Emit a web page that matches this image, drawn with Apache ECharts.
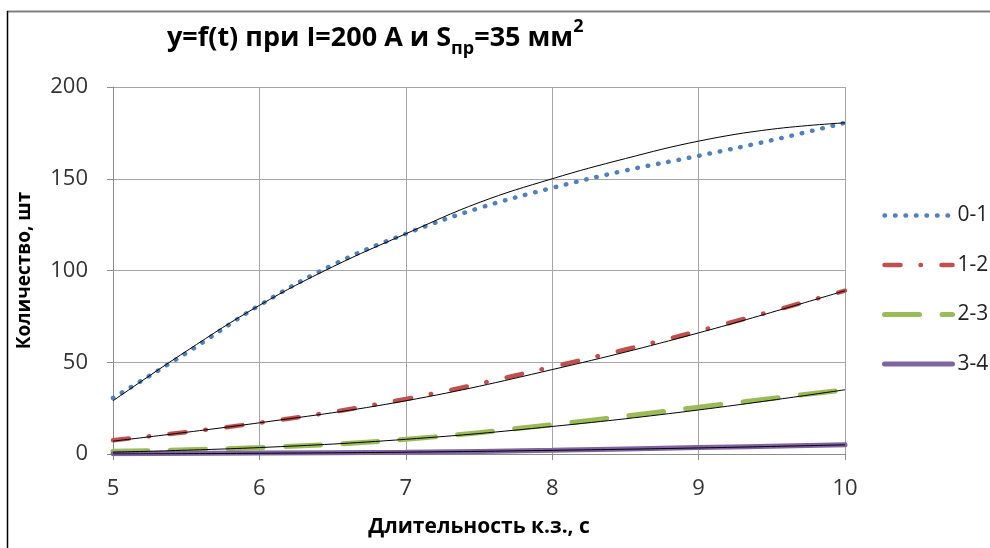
<!DOCTYPE html>
<html>
<head>
<meta charset="utf-8">
<script src="https://cdn.jsdelivr.net/npm/echarts@6/dist/echarts.min.js"></script>
<style>
  html, body { margin: 0; padding: 0; background: #fff; }
  #chart { width: 990px; height: 548px; }
</style>
</head>
<body>
<div id="chart"></div>
<script>
// x values
var tHalf = [5, 5.5, 6, 6.5, 7, 7.5, 8, 8.5, 9, 9.5, 10];
var tInt = [5, 6, 7, 8, 9, 10];

// series
var s01 = [30.5, 55, 81, 103, 120, 134, 145, 154.5, 162.5, 171, 180.5];
var s12 = [7.5, 17, 30, 47.5, 67, 89];
var s23 = [1.5, 3.5, 8, 16, 25.5, 35];
var s34 = [0.2, 0.5, 1, 2, 3.5, 5];

// black trend lines
var tr01 = [29, 56, 81, 102, 120, 137, 150, 161, 170.5, 177, 180.5];
var tr12 = [7, 17, 29, 46, 66, 89];
var tr23 = [1, 3.5, 8, 15, 24, 35];
var tr34 = [0, 0.4, 1, 2, 3.3, 5];

var names = ['0-1', '1-2', '2-3', '3-4'];
var yTicks = [0, 50, 100, 150, 200];

function pairs(xs, ys) {
    return xs.map(function (x, i) { return [x, ys[i]]; });
}

var font = '"Open Sans", sans-serif';

var styles = {
    '0-1': { color: '#4F81BD', width: 4.5, type: [0.5, 10], cap: 'round' },
    '1-2': { color: '#C0504D', width: 4.5, type: [16, 20, 0.5, 20.5], cap: 'round' },
    '2-3': { color: '#9BBB59', width: 5, type: [35, 22.5], cap: 'round' },
    '3-4': { color: '#8064A2', width: 5, type: 'solid', cap: 'round' }
};

var myChart = echarts.init(document.getElementById('chart'));

function trend(xs, ys) {
    return {
        name: 'trend',
        type: 'line',
        data: pairs(xs, ys),
        smooth: 0.4,
        symbol: 'none',
        z: 5,
        silent: true,
        lineStyle: { color: '#000', width: 1 }
    };
}

function mainSeries(name, xs, ys) {
    return {
        name: name, type: 'line', data: pairs(xs, ys), smooth: 0.4, symbol: 'none',
        itemStyle: { color: styles[name].color },
        lineStyle: styles[name]
    };
}

option = {
    animation: false,
    title: {
        text: '{a|y=f(t) при I=200 А и S}{b|пр}{a|=35 мм}{c|2}',
        left: 162,
        top: 13,
        textStyle: {
            rich: {
                a: { fontFamily: font, fontWeight: 'bold', fontSize: 27, color: '#000', lineHeight: 40 },
                b: { fontFamily: font, fontWeight: 'bold', fontSize: 18, color: '#000', lineHeight: 18, verticalAlign: 'bottom' },
                c: { fontFamily: font, fontWeight: 'bold', fontSize: 18, color: '#000', lineHeight: 18, verticalAlign: 'top' }
            }
        }
    },
    graphic: [
        { type: 'line', shape: { x1: 7, y1: 11.5, x2: 990, y2: 11.5 }, style: { stroke: '#808080', lineWidth: 2 } },
        { type: 'line', shape: { x1: 7.5, y1: 11, x2: 7.5, y2: 548 }, style: { stroke: '#000', lineWidth: 1.5 } }
    ],
    legend: {
        data: names.map(function (n) {
            return { name: n, itemStyle: { opacity: 0 }, lineStyle: styles[n] };
        }),
        orient: 'vertical',
        left: 877,
        top: 200,
        itemWidth: 68,
        itemHeight: 14,
        itemGap: 28.5,
        textStyle: { fontFamily: font, fontSize: 21, color: '#222' }
    },
    grid: { left: 113, right: 145, top: 87, bottom: 94 },
    xAxis: {
        type: 'value',
        min: 5,
        max: 10,
        interval: 1,
        name: 'Длительность к.з., с',
        nameLocation: 'middle',
        nameGap: 63,
        nameTextStyle: { fontFamily: font, fontWeight: 'bold', fontSize: 21, color: '#000' },
        axisLine: { lineStyle: { color: '#8c8c8c' } },
        axisTick: { show: true, length: 6, lineStyle: { color: '#8c8c8c' } },
        axisLabel: { margin: 24, fontFamily: font, fontSize: 22, color: '#333' },
        splitLine: { show: true, lineStyle: { color: '#a6a6a6', width: 1 } }
    },
    yAxis: {
        type: 'value',
        min: 0,
        max: 200,
        interval: 50,
        name: 'Количество, шт',
        nameLocation: 'middle',
        nameGap: 79,
        nameTextStyle: { fontFamily: font, fontWeight: 'bold', fontSize: 19, color: '#000' },
        axisLine: { show: true, lineStyle: { color: '#8c8c8c' } },
        axisTick: { show: true, length: 6, lineStyle: { color: '#8c8c8c' } },
        axisLabel: {
            margin: 25, fontFamily: font, fontSize: 22, color: '#333',
            formatter: function (v) { return yTicks.indexOf(v) >= 0 ? String(v) : ''; }
        },
        splitLine: { show: true, lineStyle: { color: '#a6a6a6', width: 1 } }
    },
    series: [
        mainSeries('0-1', tHalf, s01),
        mainSeries('1-2', tInt, s12),
        mainSeries('2-3', tInt, s23),
        mainSeries('3-4', tInt, s34),
        trend(tHalf, tr01),
        trend(tInt, tr12),
        trend(tInt, tr23),
        trend(tInt, tr34)
    ]
};

myChart.setOption(option);
</script>
</body>
</html>
